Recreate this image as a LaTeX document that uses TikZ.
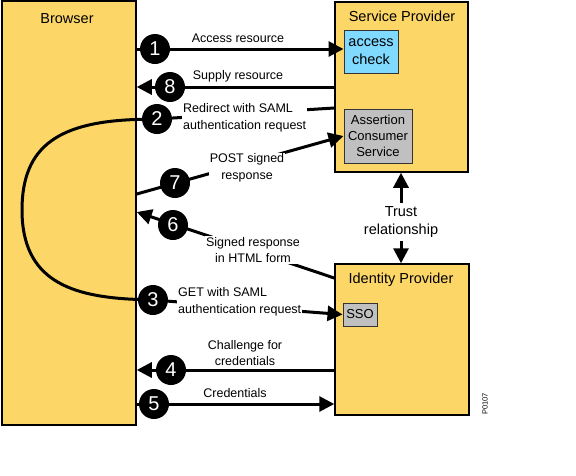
\documentclass[tikz,border=0pt]{standalone}
\usepackage{fontspec}
\setmainfont{Liberation Sans}
\usepackage{tikz}
\usetikzlibrary{arrows.meta, positioning}
\definecolor{sand}{RGB}{252,215,104}
\definecolor{sky}{RGB}{128,218,255}
\definecolor{ash}{RGB}{192,192,192}
\pgfdeclarelayer{front}
\pgfsetlayers{main,front}
\tikzset{
  party/.style = {draw=black, fill=sand, line width=1.5pt, inner sep=0pt},
  part/.style = {draw=black!80, line width=1pt, inner sep=0pt, align=center,
    font=\fontsize{13}{16}\selectfont},
  title/.style = {align=center, font=\fontsize{14.5}{18}\selectfont},
  num/.style = {circle, fill=black, text=white, minimum size=30pt,
    inner sep=0pt, font=\fontsize{20}{20}\selectfont},
  msg/.style = {align=center, inner sep=1pt,
    font=\fontsize{12.5}{16.5}\selectfont},
  cut/.style = {msg, fill=white},
  flow/.style = {line width=3pt}
}

\begin{document}
\begin{tikzpicture}[x=1pt, y=-1pt, ->, >={Triangle[length=15pt,width=15pt]}]
\useasboundingbox (0,0) rectangle (576,475);
% the three parties
\node [party, minimum width=134pt, minimum height=424pt] (br) at (69,213) {};
\node [party, minimum width=133pt, minimum height=170pt] (sp) at (401.5,87) {};
\node [party, minimum width=134pt, minimum height=151pt] (idp) at (402,339.5) {};
\node [title] (brt) at (67,19) {Browser};
\node [title] (spt) at (402,16) {Service Provider};
\node [title] (idpt) at (401,280) {Identity Provider};
\node [part, fill=sky, minimum width=54pt, minimum height=43pt,
  font=\fontsize{14.5}{18}\selectfont] (acc) at (371,51.5) {access\\check};
\node [part, fill=ash, minimum width=68pt, minimum height=54pt] (acs) at (378,136)
  {Assertion\\Consumer\\Service};
\node [part, fill=ash, minimum width=34pt, minimum height=23pt] (sso) at (360,314.5) {SSO};

\begin{pgfonlayer}{front}
% steps
\node [num] (n1) at (155,49) {1};
\node [num] (n8) at (170,87) {8};
\node [num] (n2) at (157,119) {2};
\node [num] (n7) at (175,183) {7};
\node [num] (n6) at (173,225) {6};
\node [num] (n3) at (153,300) {3};
\node [num] (n4) at (171,370) {4};
\node [num] (n5) at (154,404) {5};
% messages
\node [msg] (m1) at (238,38) {Access resource};
\node [msg] (m8) at (238,76) {Supply resource};
\node [cut, align=left, anchor=west] (m2) at (182,118) {Redirect with SAML\\authentication request};
\node [cut] (m7) at (247,168) {POST signed\\response};
\node [cut] (m6) at (253,250) {Signed response\\in HTML form};
\node [cut, align=left, anchor=west] (m3) at (177,302) {GET with SAML\\authentication request};
\node [msg] (m4) at (245,353) {Challenge for\\credentials};
\node [msg] (m5) at (235,393) {Credentials};
\node [title] (trust) at (401,222) {Trust\\relationship};
\node [rotate=90, font=\fontsize{7.5}{7.5}\selectfont] (fig) at (485,404) {P0107};
\end{pgfonlayer}

% flows
\draw [flow] (br.east |- n1) -- (acc.west |- n1);
\draw [flow] (sp.west |- n8) -- (br.east |- n8);
\draw [flow, -] (sp.west |- 0,108) -- (n2);
\draw [flow, -] (n2) .. controls (60,121) and (22,145) .. (22,210)
  .. controls (22,280) and (70,297) .. (n3);
\draw [flow] (n3) -- (sso.west);
\draw [flow] (br.east |- 0,194) -- (acs.west);
\draw [flow] (idp.west |- 0,278) -- (br.east |- 0,212);
\draw [flow] (idp.west |- n4) -- (br.east |- n4);
\draw [flow] (br.east |- n5) -- (idp.west |- n5);
\draw [flow] (trust) -- (trust |- sp.south);
\draw [flow] (trust) -- (trust |- idp.north);
\end{tikzpicture}
\end{document}
